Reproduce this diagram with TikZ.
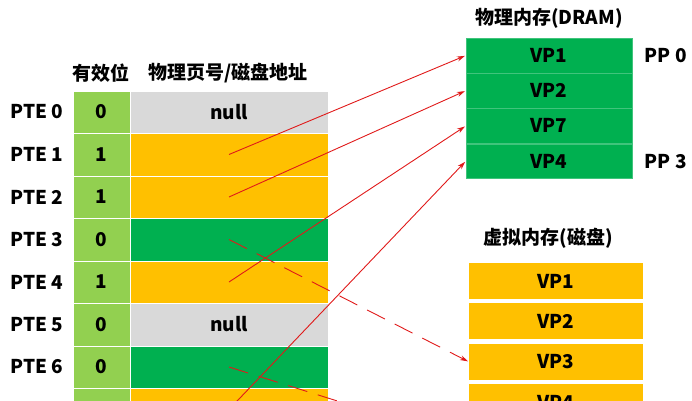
\documentclass[tikz,border=0pt]{standalone}
\usepackage{fontspec}
\setmainfont{Noto Sans CJK SC}
\usetikzlibrary{positioning, arrows.meta}

\definecolor{validgreen}{HTML}{92D050}
\definecolor{pageyellow}{HTML}{FFC000}
\definecolor{pagegreen}{HTML}{00B050}
\definecolor{nullgray}{HTML}{D9D9D9}
\definecolor{arrowred}{HTML}{E01A1A}

\tikzset{
  boldtext/.style={font=\bfseries\fontsize{19}{22}\selectfont},
  cell/.style={boldtext, draw=white, line width=0.5pt, inner sep=0pt, minimum height=42.5pt},
  validcell/.style={cell, fill=validgreen, minimum width=57pt},
  addrcell/.style={cell, minimum width=198pt},
  dramcell/.style={boldtext, fill=pagegreen, draw=white!25!pagegreen, line width=0.4pt,
    inner sep=0pt, minimum width=166pt, minimum height=34.8pt},
  diskcell/.style={boldtext, fill=pageyellow, inner sep=0pt, minimum width=174pt, minimum height=36pt},
  pagearrow/.style={-{Stealth[length=8pt,width=5pt]}, arrowred, line width=0.9pt, shorten >=1pt},
}

\begin{document}
\begin{tikzpicture}[x=1pt, y=-1pt]
  \useasboundingbox (0,0) rectangle (692,400);
  \clip (0,0) rectangle (692,400);

  % page table
  \node[boldtext] (hvalid) at (101,73) {有效位};
  \node[boldtext] (haddr) at (228,73) {物理页号/磁盘地址};
  \foreach \i/\bit/\col/\txt in {0/0/nullgray/null, 1/1/pageyellow/, 2/1/pageyellow/,
      3/0/pagegreen/, 4/1/pageyellow/, 5/0/nullgray/null, 6/0/pagegreen/} {
    \node[boldtext] (pte\i) at (37, 112+42.5*\i) {PTE \i};
    \node[validcell] (v\i) at (101.5, 112+42.5*\i) {\bit};
    \node[addrcell, fill=\col] (a\i) at (229, 112+42.5*\i) {\txt};
  }
  \node[validcell] (v7) at (101.5, 409.5) {};
  \node[addrcell, fill=pageyellow] (a7) at (229, 409.5) {};

  % physical memory
  \node[boldtext] (dram) at (549,18) {物理内存(DRAM)};
  \node[dramcell] (d1) at (549,55.5) {VP1};
  \node[dramcell, below=0pt of d1] (d2) {VP2};
  \node[dramcell, below=0pt of d2] (d7) {VP7};
  \node[dramcell, below=0pt of d7] (d4) {VP4};
  \node[boldtext, right=9pt of d1] (pp0) {PP 0};
  \node[boldtext, right=9pt of d4] (pp3) {PP 3};

  % virtual memory on disk
  \node[boldtext] (disk) at (548,238) {虚拟内存(磁盘)};
  \node[diskcell] (k1) at (556,281) {VP1};
  \node[diskcell, below=4pt of k1] (k2) {VP2};
  \node[diskcell, below=4pt of k2] (k3) {VP3};
  \node[diskcell, below=4pt of k3] (k4) {VP4};
  \coordinate (k5) at ([yshift=-40pt]k4.west);

  \draw[pagearrow] (a1.center) -- (d1.west);
  \draw[pagearrow] (a2.center) -- (d2.west);
  \draw[pagearrow] (a4.center) -- (d7.west);
  \draw[pagearrow] (a7.center) -- (d4.west);
  \draw[pagearrow, dash pattern=on 20pt off 11pt] (a3.center) -- (k3.west);
  \draw[pagearrow, dash pattern=on 20pt off 11pt] (a6.center) -- (k5);
\end{tikzpicture}
\end{document}
